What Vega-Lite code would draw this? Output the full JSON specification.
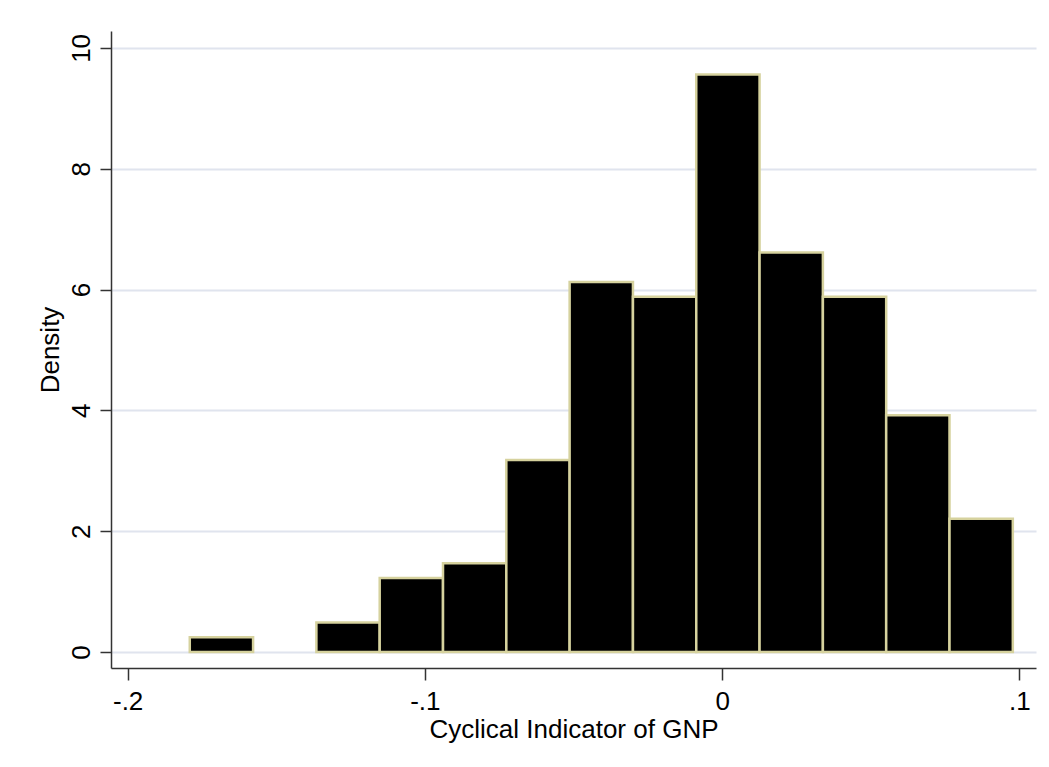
{
  "$schema": "https://vega.github.io/schema/vega-lite/v6.json",
  "width": 925,
  "height": 637,
  "autosize": {"type": "none"},
  "padding": {"left": 111, "top": 31, "right": 13, "bottom": 99},
  "background": "white",
  "config": {"view": {"stroke": null}, "font": "Liberation Sans"},
  "data": {
    "values": [
      {"bin_start": -0.1791, "bin_end": -0.1578, "density": 0.245},
      {"bin_start": -0.1365, "bin_end": -0.1152, "density": 0.49},
      {"bin_start": -0.1152, "bin_end": -0.0939, "density": 1.225},
      {"bin_start": -0.0939, "bin_end": -0.0726, "density": 1.47},
      {"bin_start": -0.0726, "bin_end": -0.0513, "density": 3.18},
      {"bin_start": -0.0513, "bin_end": -0.03, "density": 6.125},
      {"bin_start": -0.03, "bin_end": -0.0087, "density": 5.88},
      {"bin_start": -0.0087, "bin_end": 0.0126, "density": 9.56},
      {"bin_start": 0.0126, "bin_end": 0.0339, "density": 6.615},
      {"bin_start": 0.0339, "bin_end": 0.0552, "density": 5.88},
      {"bin_start": 0.0552, "bin_end": 0.0765, "density": 3.92},
      {"bin_start": 0.0765, "bin_end": 0.0978, "density": 2.205}
    ]
  },
  "mark": {"type": "bar", "fill": "black", "stroke": "#d6d29e", "strokeWidth": 2.5},
  "encoding": {
    "x": {
      "field": "bin_start",
      "type": "quantitative",
      "scale": {"domain": [-0.2056, 0.1056], "nice": false, "zero": false},
      "axis": {
        "title": "Cyclical Indicator of GNP",
        "values": [-0.2, -0.1, 0, 0.1],
        "labelExpr": "datum.value == -0.2 ? '-.2' : datum.value == -0.1 ? '-.1' : datum.value == 0 ? '0' : '.1'",
        "grid": false,
        "tickSize": 12,
        "labelPadding": 8,
        "labelFontSize": 26,
        "labelColor": "black",
        "labelFlush": false,
        "labelOverlap": false,
        "titleFontSize": 26,
        "titleFontWeight": "normal",
        "titleColor": "black",
        "titlePadding": 2,
        "domainColor": "#333333",
        "domainWidth": 1.5,
        "tickColor": "#333333",
        "tickWidth": 1.5
      }
    },
    "x2": {"field": "bin_end"},
    "y": {
      "field": "density",
      "type": "quantitative",
      "scale": {"domain": [-0.265, 10.28], "nice": false, "zero": false},
      "axis": {
        "title": "Density",
        "values": [0, 2, 4, 6, 8, 10],
        "grid": true,
        "gridColor": "#e0e4ee",
        "gridWidth": 2,
        "tickSize": 11,
        "labelAngle": -90,
        "labelAlign": "center",
        "labelBaseline": "alphabetic",
        "labelPadding": 11,
        "labelFontSize": 26,
        "labelColor": "black",
        "labelFlush": false,
        "labelOverlap": false,
        "titleFontSize": 26,
        "titleFontWeight": "normal",
        "titleColor": "black",
        "titlePadding": 5,
        "domainColor": "#333333",
        "domainWidth": 1.5,
        "tickColor": "#333333",
        "tickWidth": 1.5
      }
    },
    "y2": {"datum": 0}
  }
}
